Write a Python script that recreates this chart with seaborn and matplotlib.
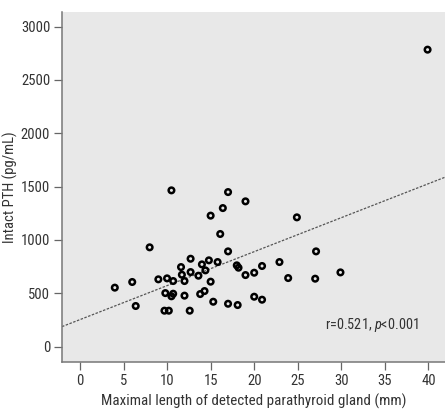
import matplotlib
matplotlib.use("Agg")
import matplotlib.pyplot as plt
import seaborn as sns
import pandas as pd

# ---- data ----
gland_length_mm = [10.5, 17.0, 19.0, 16.4, 15.0, 24.9, 16.1, 8.0, 27.1, 17.0,
                   12.7, 14.8, 15.8, 14.0, 22.9, 11.6, 18.0, 18.2, 20.9, 14.4,
                   12.7, 11.7, 13.6, 19.0, 20.0, 29.9, 23.9, 27.0, 9.0, 10.0,
                   10.7, 12.0, 6.0, 4.0, 15.0, 9.8, 10.7, 10.5, 12.0, 13.8,
                   14.3, 20.0, 20.9, 15.3, 17.0, 18.1, 6.4, 9.7, 10.2, 12.6,
                   39.9]
intact_pth = [1465, 1449, 1362, 1299, 1228, 1212, 1056, 931, 893, 893,
              824, 809, 793, 771, 793, 746, 762, 740, 756, 715,
              699, 674, 665, 671, 693, 696, 643, 637, 631, 640,
              615, 615, 606, 553, 609, 502, 496, 472, 478, 493,
              521, 468, 440, 421, 402, 390, 381, 337, 337, 337,
              2784]
x_ticks = [0, 5, 10, 15, 20, 25, 30, 35, 40]
y_ticks = [0, 500, 1000, 1500, 2000, 2500, 3000]
x_label = "Maximal length of detected parathyroid gland (mm)"
y_label = "Intact PTH (pg/mL)"
annotation = r"r=0.521, $\it{p}$<0.001"

df = pd.DataFrame({"length": gland_length_mm, "pth": intact_pth})

sns.set_style("white")
FONT = "Roboto Condensed"
plt.rcParams["font.family"] = [FONT, "DejaVu Sans"]
plt.rcParams["mathtext.fontset"] = "custom"
plt.rcParams["mathtext.it"] = FONT + ":italic"
plt.rcParams["mathtext.rm"] = FONT

fig = plt.figure(figsize=(4.45, 4.12), dpi=100)
ax = fig.add_axes([62/445, 1 - 362/412, (445 - 62)/445, (362 - 12)/412])
ax.set_facecolor("#e8e8e8")
ax.set_xlim(-2.06, 41.9)
ax.set_ylim(-144, 3137)

sns.regplot(data=df, x="length", y="pth", ax=ax, scatter=False, ci=None,
            truncate=False,
            line_kws=dict(color="#555555", lw=0.9, ls=(0, (2.0, 1.2))))
sns.scatterplot(data=df, x="length", y="pth", ax=ax, marker="o", s=16,
                facecolor="none", edgecolor="black", linewidth=1.8, zorder=3)

ax.set_xlim(-2.06, 41.9)
ax.set_ylim(-144, 3137)
ax.set_xticks(x_ticks)
ax.set_yticks(y_ticks)
ax.tick_params(axis="both", direction="out", length=5.5, width=0.9,
               color="#666666", labelcolor="#333333", labelsize=10.5,
               bottom=True, left=True, pad=3)
for s in ["top", "right"]:
    ax.spines[s].set_visible(False)
for s in ["left", "bottom"]:
    ax.spines[s].set_color("#777777")
    ax.spines[s].set_linewidth(1.1)

ax.set_xlabel(x_label, fontsize=10.8, color="#333333", labelpad=4)
ax.set_ylabel(y_label, fontsize=10.5, color="#333333", labelpad=2)

ax.text(325/445, 1 - 325/412, annotation, transform=fig.transFigure,
        fontsize=10.3, color="#333333", va="center", ha="left")

fig.savefig("out.png", dpi=100, facecolor="white")
